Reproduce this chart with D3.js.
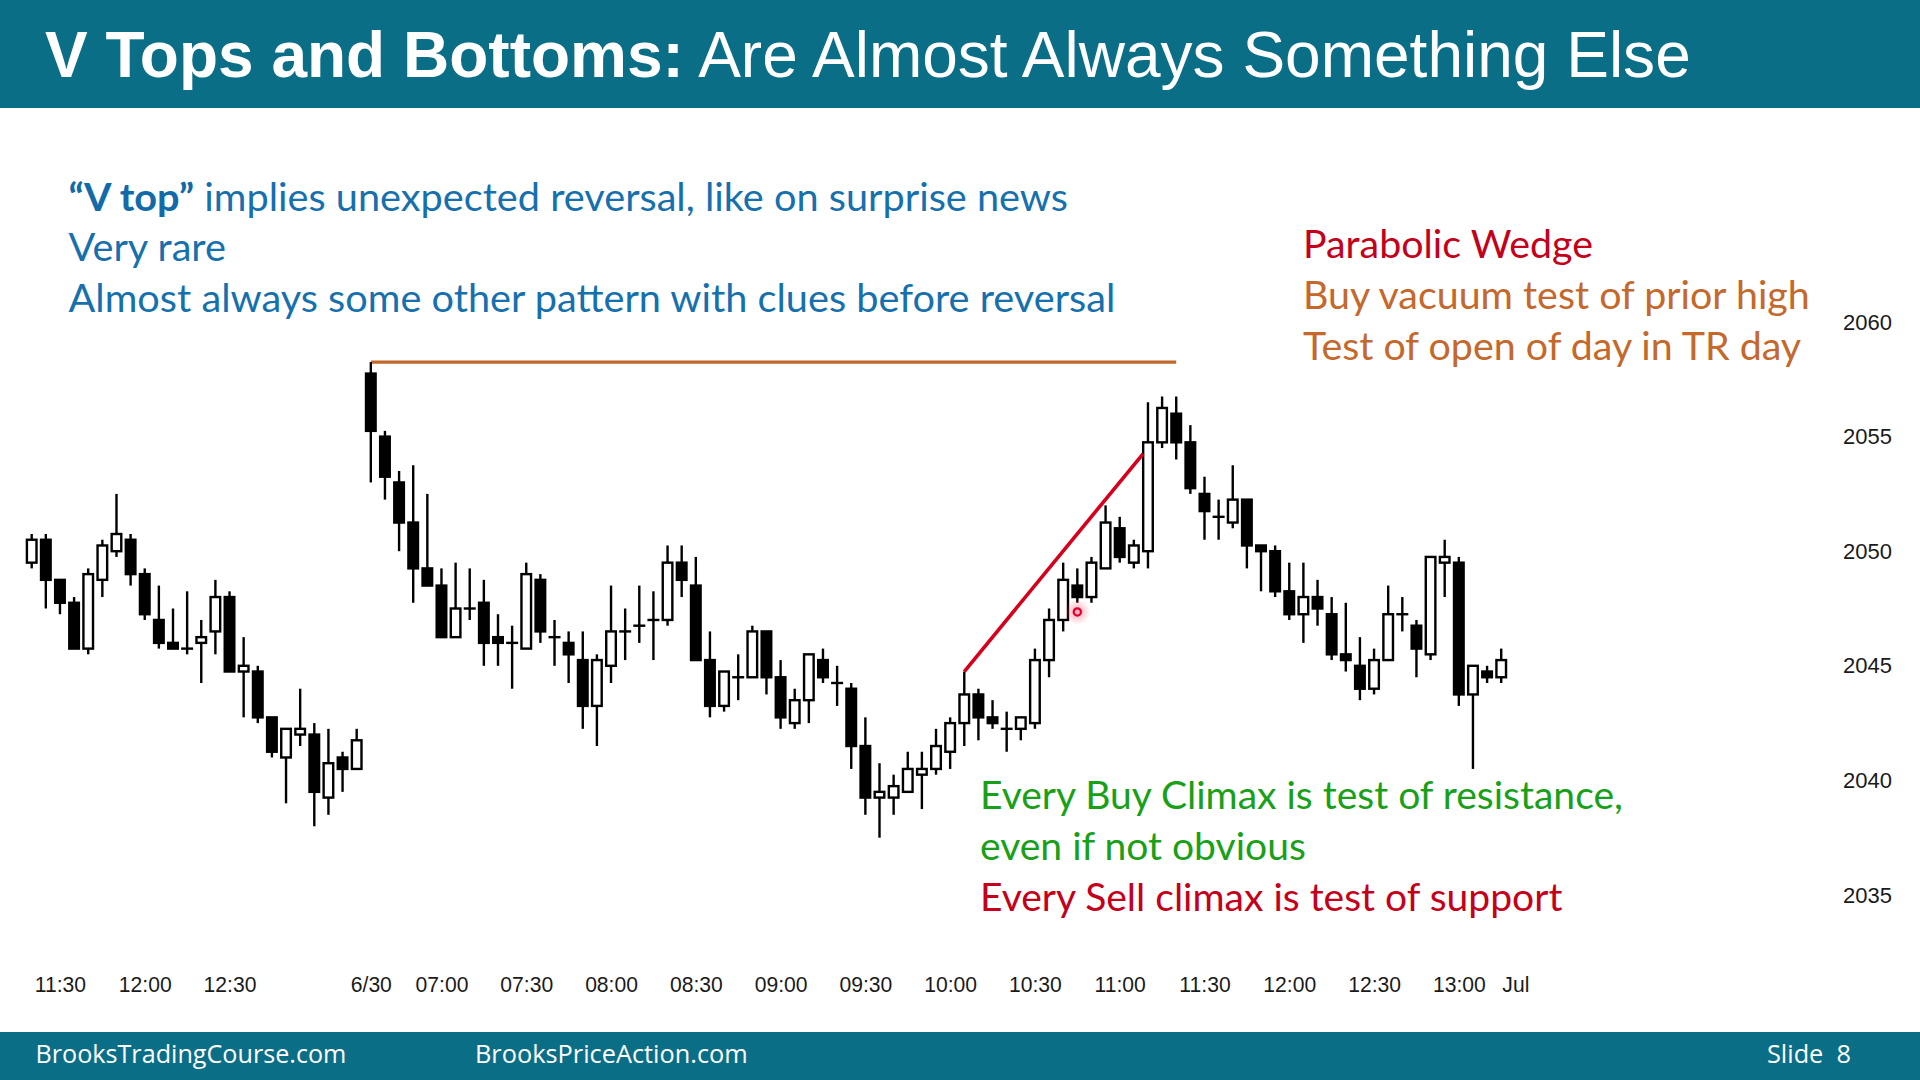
<!DOCTYPE html>
<html><head><meta charset="utf-8">
<script src="https://cdn.jsdelivr.net/npm/d3@7"></script>
<style>html,body{margin:0;padding:0;background:#fff;overflow:hidden}svg{display:block}</style>
</head><body>
<svg id="c" width="1920" height="1080"></svg>
<script>
// ---- categories: 5-minute bars (prior day 11:20-13:15, then 6/30 06:35-13:15)
const times = [
"11:20","11:25","11:30","11:35","11:40","11:45","11:50","11:55","12:00","12:05","12:10","12:15",
"12:20","12:25","12:30","12:35","12:40","12:45","12:50","12:55","13:00","13:05","13:10","13:15",
"06:35","06:40","06:45","06:50","06:55","07:00","07:05","07:10","07:15","07:20","07:25","07:30",
"07:35","07:40","07:45","07:50","07:55","08:00","08:05","08:10","08:15","08:20","08:25","08:30",
"08:35","08:40","08:45","08:50","08:55","09:00","09:05","09:10","09:15","09:20","09:25","09:30",
"09:35","09:40","09:45","09:50","09:55","10:00","10:05","10:10","10:15","10:20","10:25","10:30",
"10:35","10:40","10:45","10:50","10:55","11:00","11:05","11:10","11:15","11:20","11:25","11:30",
"11:35","11:40","11:45","11:50","11:55","12:00","12:05","12:10","12:15","12:20","12:25","12:30",
"12:35","12:40","12:45","12:50","12:55","13:00","13:05","13:10","13:15"];

const open = [
2049.5,2050.5,2048.75,2047.75,2045.75,2048.75,2050,2050.5,2049,2047,2046,2045.75,
2046,2046.5,2048,2044.75,2044.75,2042.75,2041,2042,2042,2039.25,2041,2040.5,
2057.75,2055,2053,2051.25,2049.25,2048.5,2046.25,2047.5,2047.75,2046.25,2046,2045.75,
2048.75,2046.25,2046,2045.25,2043.25,2045,2046.5,2046.75,2047,2047,2049.5,2048.5,
2045.25,2043.25,2044.5,2044.5,2046.5,2044.5,2042.5,2043.5,2045.25,2044.25,2044,2041.5,
2039.25,2039.25,2039.5,2040.25,2040.5,2041.25,2042.5,2043.75,2042.75,2042.25,2042.25,2042.5,
2045.25,2047,2048.5,2048,2049.25,2051,2049.5,2050,2054.75,2056,2054.75,2052.5,
2051.5,2051.25,2052.25,2050.25,2050,2048.25,2047.25,2048,2047.25,2045.5,2045,2044,
2045.25,2047.25,2046.75,2045.5,2049.5,2049.5,2043.75,2044.75,2044.5];
const high = [
2050.75,2050.75,2048.75,2048,2049.25,2050.5,2052.5,2050.75,2049.25,2048.5,2047.5,2048.25,
2047,2048.75,2048.25,2046.25,2045,2042.75,2042.25,2044,2042.5,2042.25,2041.25,2042.25,
2058.25,2055.25,2053.5,2053.75,2052.5,2049.25,2049.5,2049.25,2048.75,2047.25,2046.75,2049.5,
2049,2047,2046.5,2046.5,2045.5,2048.5,2047.5,2048.5,2048.25,2050.25,2050.25,2049.75,
2046.5,2044.75,2045.5,2046.75,2046.5,2045.25,2044,2045.5,2045.75,2045,2044.25,2042.75,
2040.75,2040.25,2041.25,2041.25,2042.25,2042.75,2044.75,2044,2043.5,2043,2042.75,2045.75,
2047.5,2049.5,2049.25,2049.75,2052,2051.5,2050.5,2056.5,2056.75,2056.75,2055.5,2053.25,
2052.25,2053.75,2052.25,2050.25,2050.25,2049.5,2049.5,2048.75,2048,2047.75,2046.25,2045.75,
2048.5,2048,2047,2049.75,2050.5,2049.75,2045,2045,2045.75];
const low = [
2049.25,2047.5,2047.25,2045.75,2045.5,2048,2049.75,2048.5,2047,2045.75,2045.75,2045.5,
2044.25,2045.5,2044.75,2042.75,2042.5,2041,2039,2041.5,2038,2038.5,2039.5,2040.5,
2053,2052.25,2050,2047.75,2048.5,2046.25,2046.25,2047,2045,2045,2044,2045.75,
2046,2045,2044.25,2042.25,2041.5,2044.25,2045.25,2046,2045.25,2046.75,2048,2045.25,
2042.75,2043,2043.5,2044.5,2043.75,2042.25,2042.25,2042.5,2044.25,2043.25,2040.5,2038.5,
2037.5,2038.5,2039.5,2038.75,2040.25,2040.5,2041.5,2041.75,2042.25,2041.25,2041.75,2042.25,
2044.5,2046.5,2047.75,2047.75,2049.25,2049.5,2049.25,2049.25,2054.5,2054,2052.5,2050.5,
2050.5,2051,2049.25,2048.25,2048,2047,2046,2046.75,2045.25,2044.75,2043.5,2043.75,
2045.25,2046.5,2044.5,2045.25,2048,2043.25,2040.5,2044.25,2044.25];
const close = [
2050.5,2048.75,2047.75,2045.75,2049,2050.25,2050.75,2049,2047.25,2046,2045.75,2045.75,
2046.25,2048,2044.75,2045,2042.75,2041.25,2042.25,2042.25,2039.5,2040.75,2040.5,2041.75,
2055.25,2053.25,2051.25,2049.25,2048.5,2046.25,2047.5,2047.5,2046,2046,2046,2049,
2046.5,2046.25,2045.5,2043.25,2045.25,2046.5,2046.5,2046.75,2047,2049.5,2048.75,2045.25,
2043.25,2044.75,2044.5,2046.5,2044.5,2042.75,2043.5,2045.5,2044.5,2044.25,2041.5,2039.25,
2039.5,2039.75,2040.5,2040.5,2041.5,2042.5,2043.75,2042.75,2042.5,2042.25,2042.75,2045.25,
2047,2048.75,2048,2049.5,2051.25,2049.75,2050.25,2054.75,2056.25,2054.75,2052.75,2051.75,
2051.5,2052.25,2050.25,2050,2048.25,2047.25,2048,2047.5,2045.5,2045.25,2044,2045.25,
2047.25,2047.25,2045.75,2049.75,2049.75,2043.75,2045,2044.5,2045.25];

// ---- axis tick labels
const tickIndex  = [2,8,14,24,29,35,41,47,53,59,65,71,77,83,89,95,101,105];
const tickLabels = ["11:30","12:00","12:30","6/30","07:00","07:30","08:00","08:30","09:00","09:30","10:00","10:30","11:00","11:30","12:00","12:30","13:00","Jul"];
const priceTicks = [2035,2040,2045,2050,2055,2060];

// ---- annotation lines (bar index, price)
const priorHighLine = [[24,2058.25],[81,2058.25]];
const wedgeLine = [[66,2044.75],[78.65,2054.25]];
const cursorDot = [74,2047.35];

// ---- texts
const titleBold = "V Tops and Bottoms:";
const titleRest = "Are Almost Always Something Else";
const blueLines = [["“V top”"," implies unexpected reversal, like on surprise news"],["","Very rare"],["","Almost always some other pattern with clues before reversal"]];
const rightLines = [["Parabolic Wedge","#c4001b"],["Buy vacuum test of prior high","#c4682c"],["Test of open of day in TR day","#c4682c"]];
const greenLines = [["Every Buy Climax is test of resistance,","#18a018"],["even if not obvious","#18a018"],["Every Sell climax is test of support","#c4001b"]];
const footer = [["BrooksTradingCourse.com",35.5,311],["BrooksPriceAction.com",475,273],["Slide  8",1767,84]];

const svg = d3.select("#c");
const teal = "#0b6e87";

const x = d3.scaleLinear().domain([0,105]).range([31.7, 31.7+105*14.13]);
const y = d3.scaleLinear().domain([2035,2060]).range([895,322]);

function fitBlock(nodes, target, x0, idx){
  const w = nodes[idx].node().getBBox().width;
  const k = target / w;
  nodes.forEach(n => n.attr("transform", `translate(${x0},0) scale(${k},1) translate(${-x0},0)`));
}

// header
svg.append("rect").attr("x",0).attr("y",0).attr("width",1920).attr("height",108).attr("fill",teal);
const title = svg.append("text").attr("x",45).attr("y",77)
  .attr("font-family","'Liberation Sans', Arial, sans-serif").attr("font-size",64).attr("fill","#fff");
title.append("tspan").attr("font-weight","bold").text(titleBold);
title.append("tspan").attr("font-weight","normal").text(" " + titleRest);
fitBlock([title], 1646, 45, 0);

// footer
svg.append("rect").attr("x",0).attr("y",1032).attr("width",1920).attr("height",48).attr("fill",teal);
footer.forEach(f => {
  const t = svg.append("text").attr("x",f[1]).attr("y",1063).attr("fill","#fff")
    .attr("font-family","'Open Sans', 'Noto Sans', sans-serif").attr("font-size",25).attr("xml:space","preserve").text(f[0]);
  fitBlock([t], f[2], f[1], 0);
});

// blue text
const textFont = "Lato, 'Open Sans', sans-serif";
const blueNodes = blueLines.map((l,k) => {
  const t = svg.append("text").attr("x",68.6).attr("y",210.6 + k*50.7)
    .attr("font-family",textFont).attr("font-size",38).attr("fill","#1670ae");
  if (l[0]) t.append("tspan").attr("font-weight","bold").attr("fill","#126aa8").text(l[0]);
  t.append("tspan").text(l[1]);
  return t;
});
fitBlock(blueNodes, 1047, 68.6, 2);

const rightNodes = rightLines.map((l,k) => svg.append("text").attr("x",1303).attr("y",258.4 + k*50.8)
  .attr("font-family",textFont).attr("font-size",38).attr("fill",l[1]).text(l[0]));
fitBlock(rightNodes, 507, 1303, 1);

const greenNodes = greenLines.map((l,k) => svg.append("text").attr("x",980).attr("y",809.4 + k*50.8)
  .attr("font-family",textFont).attr("font-size",38).attr("fill",l[1]).text(l[0]));
fitBlock(greenNodes, 643, 980, 0);

// axes
const yAxis = svg.append("g").attr("transform","translate(1843,0)")
  .call(d3.axisRight(y).tickValues(priceTicks).tickSize(0).tickPadding(0).tickFormat(d3.format("d")));
yAxis.select(".domain").remove();
yAxis.selectAll("text").attr("font-family","'Liberation Sans', Arial, sans-serif").attr("font-size",22).attr("fill","#1a1a1a");

const xAxis = svg.append("g").attr("transform","translate(0,976)")
  .call(d3.axisBottom(x).tickValues(tickIndex).tickSize(0).tickPadding(0).tickFormat((d,k)=>tickLabels[k]));
xAxis.select(".domain").remove();
xAxis.selectAll("text").attr("font-family","'Liberation Sans', Arial, sans-serif").attr("font-size",22)
  .attr("transform","scale(0.96,1)").attr("fill","#1a1a1a");

// annotation lines
const line = d3.line().x(d=>x(d[0])).y(d=>y(d[1]));
svg.append("path").attr("d",line(priorHighLine)).attr("stroke","#c0672b").attr("stroke-width",3.2).attr("fill","none");

// candles
const bw = 9.6, sw = 2.4;
const g = svg.append("g");
times.forEach((t,i) => {
  const cx = x(i), o = open[i], h = high[i], l = low[i], c = close[i];
  g.append("line").attr("x1",cx).attr("x2",cx).attr("y1",y(h)).attr("y2",y(l))
    .attr("stroke","#000").attr("stroke-width",sw);
  if (o === c) {
    g.append("rect").attr("x",cx-bw/2-sw/2).attr("y",y(o)-sw/2).attr("width",bw+sw).attr("height",sw).attr("fill","#000");
  } else {
    g.append("rect").attr("x",cx-bw/2).attr("y",y(Math.max(o,c))).attr("width",bw)
      .attr("height",Math.abs(y(o)-y(c))).attr("fill", c>o ? "#fff" : "#000")
      .attr("stroke","#000").attr("stroke-width",sw);
  }
});

svg.append("path").attr("d",line(wedgeLine)).attr("stroke","#d6001c").attr("stroke-width",3.6).attr("fill","none");

// cursor dot
const defs = svg.append("defs");
const rg = defs.append("radialGradient").attr("id","glow");
rg.append("stop").attr("offset","0%").attr("stop-color","#ff5a7a").attr("stop-opacity",0.55);
rg.append("stop").attr("offset","100%").attr("stop-color","#ff5a7a").attr("stop-opacity",0);
svg.append("circle").attr("cx",x(cursorDot[0])).attr("cy",y(cursorDot[1])).attr("r",13).attr("fill","url(#glow)");
svg.append("circle").attr("cx",x(cursorDot[0])).attr("cy",y(cursorDot[1])).attr("r",3.6)
  .attr("fill","#ffb0c0").attr("stroke","#e0002a").attr("stroke-width",2.2);
</script>
</body></html>
